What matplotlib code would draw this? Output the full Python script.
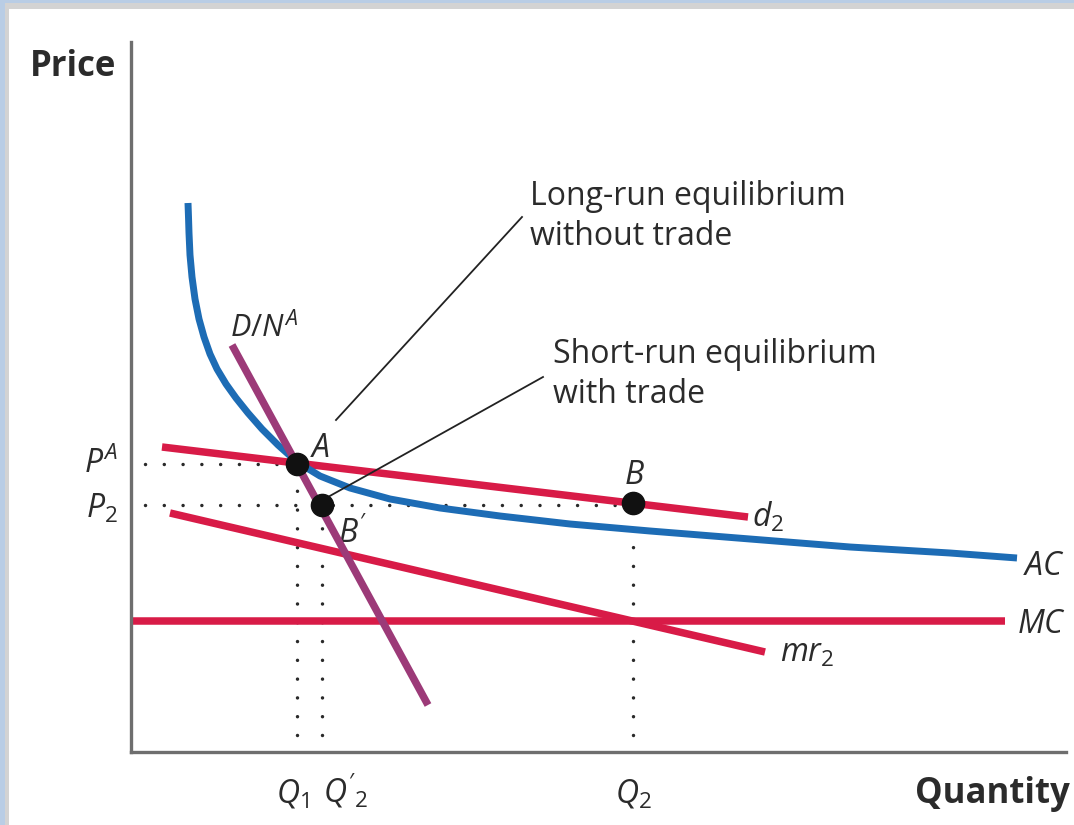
import matplotlib
matplotlib.use("Agg")
import matplotlib.pyplot as plt
from matplotlib.patches import Rectangle

# ========================================
# Data (plot units: quantity to the right of the price axis, price up from the quantity axis)
# ========================================

ac_q = [57, 57.5, 58, 59, 61, 64, 68, 73, 79, 86, 95, 105, 117, 131, 147, 166,
        189, 219, 259, 309, 369, 439, 519, 619, 719, 819, 886]
ac_p = [549, 535, 519, 497, 475, 453, 433, 415, 398, 383, 368, 354, 339, 323, 307, 290,
        276, 264, 253, 244, 236, 228, 221, 213, 205, 199, 194]

d2_q = [31, 617]
d2_p = [305, 235]

mr2_q = [39, 634]
mr2_p = [239, 100]

mc_q = [2, 874]
mc_p = [131, 131]

dn_q = [101, 297]
dn_p = [407, 47]

point_names = ["A", "B'", "B"]
point_q = [166, 191, 502]
point_p = [288, 247, 249]

price_labels = [r"$P^{A}$", r"$P_2$"]
price_levels = [288, 247]
qty_labels = [r"$Q_1$", r"$Q'_2$", r"$Q_2$"]
qty_levels = [166, 191, 502]

long_run_lines = ["Long-run equilibrium", "without trade"]
short_run_lines = ["Short-run equilibrium", "with trade"]
long_leader_q = [205, 391]
long_leader_p = [332, 535]
short_leader_q = [197, 412]
short_leader_p = [255, 375]

# ========================================
# Style
# ========================================

RED = "#d81b47"
BLUE = "#1d6cb5"
PURPLE = "#9c3a78"
AXIS = "#6e6e6e"
TEXT = "#2b2b2b"

plt.rcParams["font.family"] = ["Open Sans", "DejaVu Sans"]
plt.rcParams["mathtext.fontset"] = "custom"
plt.rcParams["mathtext.it"] = "Open Sans:italic"
plt.rcParams["mathtext.rm"] = "Open Sans"
plt.rcParams["mathtext.sf"] = "Open Sans"

W, H = 1074, 825
fig = plt.figure(figsize=(W / 100, H / 100), dpi=100)

# frame around the figure
fig.add_artist(Rectangle((0, 1 - 3 / H), 1, 3 / H, transform=fig.transFigure, color="#b9cde5", lw=0))
fig.add_artist(Rectangle((5 / W, 1 - 9 / H), 1, 6 / H, transform=fig.transFigure, color="#d3d3d3", lw=0))
fig.add_artist(Rectangle((0, 0), 5 / W, 1, transform=fig.transFigure, color="#b9cde5", lw=0))
fig.add_artist(Rectangle((5 / W, 0), 4 / W, 1 - 3 / H, transform=fig.transFigure, color="#d3d3d3", lw=0))

ax = fig.add_axes([131 / W, 73 / H, 935 / W, 710 / H])
ax.set_xlim(0, 935)
ax.set_ylim(0, 710)
ax.set_xticks([])
ax.set_yticks([])
ax.patch.set_alpha(0)
for side in ["top", "right"]:
    ax.spines[side].set_visible(False)
for side in ["left", "bottom"]:
    ax.spines[side].set_color(AXIS)
    ax.spines[side].set_linewidth(2.4)

# dotted guides
dots = dict(color="#2a2a2a", lw=2.5, linestyle=(0, (0.01, 5.4)), dash_capstyle="round", zorder=1)
ax.plot([14, point_q[0]], [price_levels[0]] * 2, **dots)
ax.plot([14, point_q[2]], [price_levels[1]] * 2, **dots)
for q, p in zip(qty_levels, point_p):
    ax.plot([q, q], [17, p], **dots)

# curves
ax.plot(mc_q, mc_p, color=RED, lw=5.4, solid_capstyle="butt", zorder=2)
ax.plot(mr2_q, mr2_p, color=RED, lw=5.4, solid_capstyle="butt", zorder=2)
ax.plot(d2_q, d2_p, color=RED, lw=5.4, solid_capstyle="butt", zorder=2)
ax.plot(ac_q, ac_p, color=BLUE, lw=5.0, solid_capstyle="butt", solid_joinstyle="round", zorder=3)
ax.plot(dn_q, dn_p, color=PURPLE, lw=5.4, solid_capstyle="butt", zorder=4)

# leaders
ax.plot(long_leader_q, long_leader_p, color="#222222", lw=1.3, zorder=5)
ax.plot(short_leader_q, short_leader_p, color="#222222", lw=1.3, zorder=5)

# equilibrium points
ax.plot(point_q, point_p, "o", color="#111111", ms=16, zorder=6)

kw = dict(color=TEXT, clip_on=False, va="baseline")
ax.text(399, 547, long_run_lines[0], fontsize=23, **kw)
ax.text(399, 507, long_run_lines[1], fontsize=23, **kw)
ax.text(422, 389, short_run_lines[0], fontsize=23, **kw)
ax.text(422, 349, short_run_lines[1], fontsize=23, **kw)

ax.text(-101, 676, "Price", fontsize=25, fontweight="bold", **kw)
ax.text(939, -51, "Quantity", fontsize=25, fontweight="bold", ha="right", **kw)

ax.text(99, 415, r"$D/N^{A}$", fontsize=22, **kw)
ax.text(179, 295, r"$A$", fontsize=23, **kw)
ax.text(503, 268, r"$B$", fontsize=23, ha="center", **kw)
ax.text(207, 209, r"$B'$", fontsize=23, **kw)
ax.text(621, 225, r"$d_2$", fontsize=23, **kw)
ax.text(892, 177, r"$AC$", fontsize=23, **kw)
ax.text(886, 119, r"$MC$", fontsize=23, **kw)
ax.text(649, 90, r"$mr_2$", fontsize=23, **kw)

ax.text(-13, 279, price_labels[0], fontsize=23, ha="right", **kw)
ax.text(-13, 234, price_labels[1], fontsize=23, ha="right", **kw)
for lab, q in zip(qty_labels, [161, 215, 502]):
    ax.text(q, -51, lab, fontsize=23, ha="center", **kw)

fig.savefig("out.png", dpi=100)
